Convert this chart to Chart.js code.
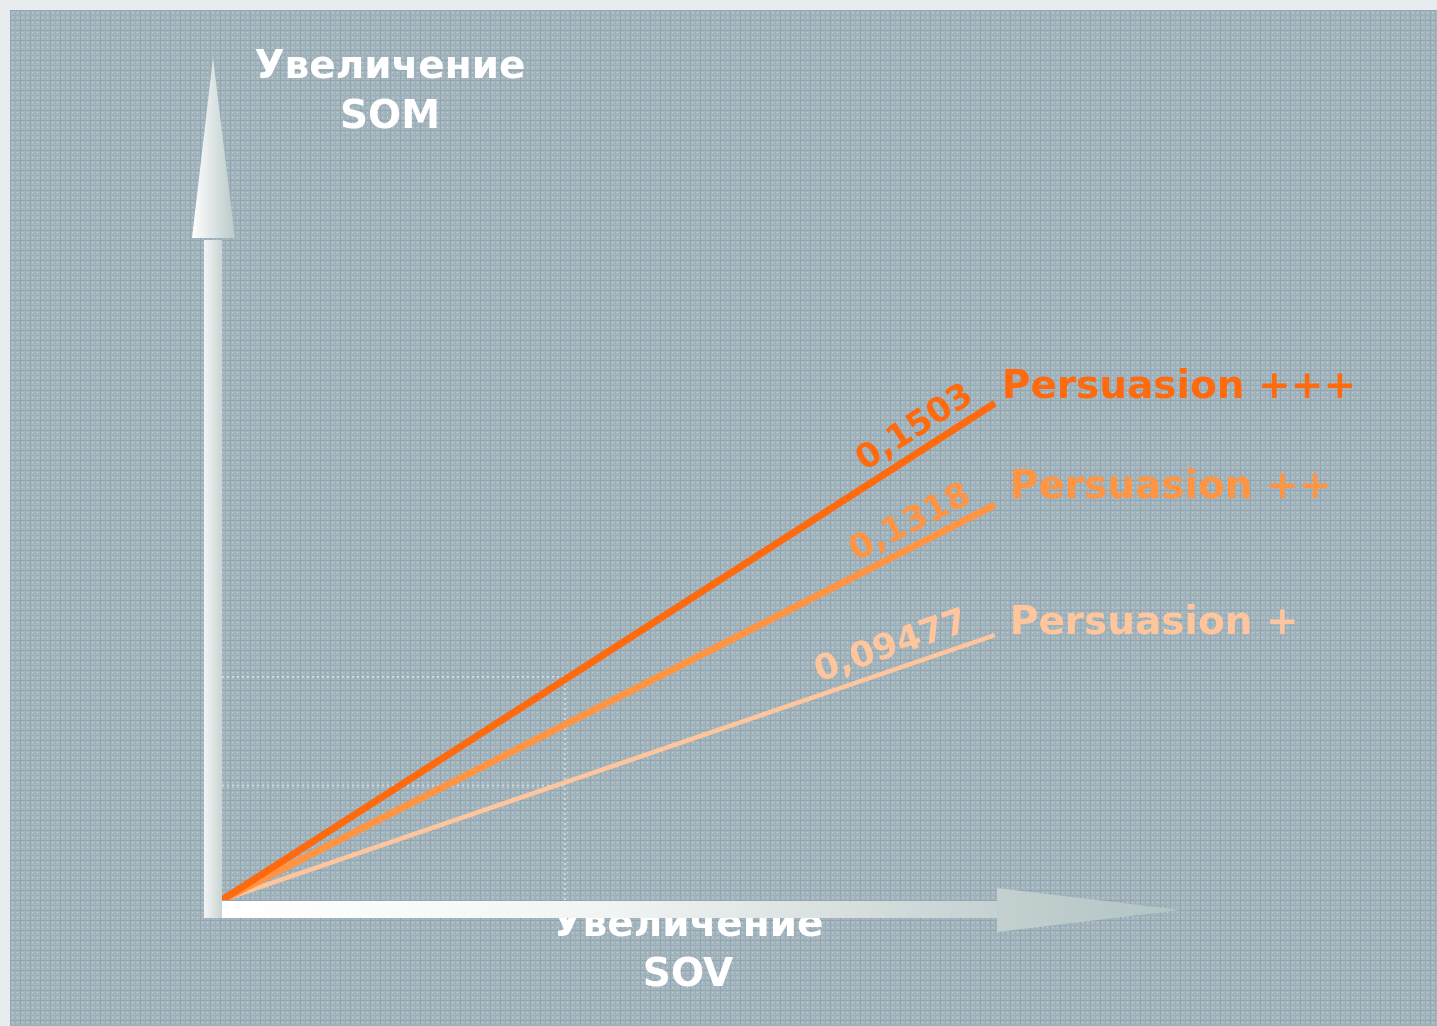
<!DOCTYPE html>
<html>
<head>
<meta charset="utf-8">
<script src="https://cdn.jsdelivr.net/npm/chart.js@4.4.1/dist/chart.umd.min.js"></script>
<style>
  html, body { margin: 0; padding: 0; background: #e8ecee; }
  #wrap { width: 1437px; height: 1026px; position: relative; }
</style>
</head>
<body>
<div id="wrap"><canvas id="chart"></canvas></div>
<script>
// Данные: рост SOV (x) и рост SOM (y), условные единицы
const sovPoints = [0, 8];
const persuasion3 = [0, 6.21];
const persuasion2 = [0, 4.94];
const persuasion1 = [0, 3.31];
const seriesNames = ['Persuasion +++', 'Persuasion ++', 'Persuasion +'];
const slopeLabels = ['0,1503', '0,1318', '0,09477'];
// опорные пунктирные линии
const refSov = 3.55;
const refSom = [2.79, 1.43];

const yTitle = ['Увеличение', 'SOM'];
const xTitle = ['Увеличение', 'SOV'];

const FONT = '"DejaVu Sans", Verdana, sans-serif';
const STYLE = [
    { color: '#ff6a0e', width: 7, nameDx: 7,  nameDy: -15, font: 34, along: -15 },
    { color: '#ff9442', width: 7, nameDx: 15, nameDy: -17, font: 34, along: -18 },
    { color: '#ffc59c', width: 4.5, nameDx: 15, nameDy: -11, font: 35, along: -22 }
];

function makePattern(ctx) {
    const c = document.createElement('canvas');
    c.width = 10; c.height = 10;
    const g = c.getContext('2d');
    g.fillStyle = '#a6b6bf'; g.fillRect(0, 0, 10, 10);
    g.fillStyle = '#90a5b0'; g.fillRect(0, 0, 10, 1); g.fillRect(0, 0, 1, 10);
    g.fillStyle = '#9bafb9'; g.fillRect(0, 5, 10, 1); g.fillRect(5, 0, 1, 10);
    g.fillStyle = '#c6d3d8'; g.fillRect(2, 2, 1, 1); g.fillRect(7, 7, 1, 1); g.fillRect(2, 7, 1, 1); g.fillRect(7, 2, 1, 1);
    return ctx.createPattern(c, 'repeat');
}

const line = (data, i) => ({
    data: sovPoints.map((x, k) => ({ x, y: data[k] })),
    showLine: true,
    borderColor: STYLE[i].color,
    borderWidth: STYLE[i].width,
    pointRadius: 0,
    borderCapStyle: 'butt',
    order: 1
});
const dotted = (pts) => ({
    data: pts,
    showLine: true,
    borderColor: 'rgba(225,234,238,0.85)',
    borderWidth: 1.5,
    borderDash: [2, 3],
    pointRadius: 0,
    order: 5
});

// фон, подписи осей (подпись X лежит под стрелкой)
const backdrop = {
    id: 'backdrop',
    beforeDraw(chart) {
        const { ctx, width, height } = chart;
        ctx.save();
        ctx.fillStyle = '#e8ecee';
        ctx.fillRect(0, 0, width, height);
        ctx.fillStyle = makePattern(ctx);
        ctx.fillRect(10, 10, width - 10, height - 10);

        const ox = chart.scales.x.getPixelForValue(0);
        ctx.fillStyle = '#ffffff';
        ctx.font = 'bold 39px ' + FONT;
        ctx.textAlign = 'center';
        ctx.textBaseline = 'middle';
        ctx.fillText(yTitle[0], ox + 168, 68);
        ctx.fillText(yTitle[1], ox + 168, 118);
        ctx.fillText(xTitle[0], ox + 466, 926);
        ctx.fillText(xTitle[1], ox + 466, 976);
        ctx.restore();
    }
};

// стрелки осей и подписи серий
const axesAndLabels = {
    id: 'axesAndLabels',
    afterDatasetsDraw(chart) {
        const { ctx } = chart;
        const ox = chart.scales.x.getPixelForValue(0);
        const oy = chart.scales.y.getPixelForValue(0);
        ctx.save();

        // ось Y
        let g = ctx.createLinearGradient(ox - 18, 0, ox, 0);
        g.addColorStop(0, '#f3f5f5'); g.addColorStop(1, '#c9d3d3');
        ctx.fillStyle = g;
        ctx.fillRect(ox - 18, oy - 660, 18, 678);
        g = ctx.createLinearGradient(ox - 30, 0, ox + 13, 0);
        g.addColorStop(0, '#ffffff'); g.addColorStop(1, '#b9c9c9');
        ctx.fillStyle = g;
        ctx.beginPath();
        ctx.moveTo(ox - 30, oy - 662);
        ctx.lineTo(ox + 13, oy - 662);
        ctx.lineTo(ox - 9, oy - 842);
        ctx.closePath();
        ctx.fill();

        // ось X
        g = ctx.createLinearGradient(ox, 0, ox + 775, 0);
        g.addColorStop(0, '#ffffff'); g.addColorStop(0.5, '#f2f4f4'); g.addColorStop(1, '#c6d1d1');
        ctx.fillStyle = g;
        ctx.fillRect(ox, oy + 1, 775, 17);
        g = ctx.createLinearGradient(ox + 775, 0, ox + 958, 0);
        g.addColorStop(0, '#c3d0cf'); g.addColorStop(1, '#b2c4c4');
        ctx.fillStyle = g;
        ctx.beginPath();
        ctx.moveTo(ox + 775, oy - 12);
        ctx.lineTo(ox + 958, oy + 10);
        ctx.lineTo(ox + 775, oy + 32);
        ctx.closePath();
        ctx.fill();

        // подписи наклонов и названия серий
        for (let i = 0; i < 3; i++) {
            const pts = chart.getDatasetMeta(i).data;
            const p0 = pts[0], p1 = pts[pts.length - 1];
            const ang = Math.atan2(p1.y - p0.y, p1.x - p0.x);
            ctx.save();
            ctx.translate(p1.x, p1.y);
            ctx.rotate(ang);
            ctx.fillStyle = STYLE[i].color;
            ctx.font = 'bold ' + STYLE[i].font + 'px ' + FONT;
            ctx.textAlign = 'right';
            ctx.textBaseline = 'alphabetic';
            ctx.fillText(slopeLabels[i], STYLE[i].along, -13);
            ctx.restore();

            ctx.fillStyle = STYLE[i].color;
            ctx.font = 'bold 39px ' + FONT;
            ctx.textAlign = 'left';
            ctx.textBaseline = 'middle';
            ctx.fillText(seriesNames[i], p1.x + STYLE[i].nameDx, p1.y + STYLE[i].nameDy);
        }
        ctx.restore();
    }
};

new Chart(document.getElementById('chart'), {
    type: 'scatter',
    data: {
        datasets: [
            line(persuasion3, 0),
            line(persuasion2, 1),
            line(persuasion1, 2),
            dotted([{ x: refSov, y: 0 }, { x: refSov, y: refSom[0] }]),
            dotted([{ x: 0, y: refSom[0] }, { x: refSov, y: refSom[0] }]),
            dotted([{ x: 0, y: refSom[1] }, { x: refSov, y: refSom[1] }])
        ]
    },
    options: {
        responsive: true,
        maintainAspectRatio: false,
        animation: false,
        layout: { padding: { left: 222, right: 249, top: 100, bottom: 126 } },
        scales: {
            x: { type: 'linear', min: 0, max: 10, display: false },
            y: { type: 'linear', min: 0, max: 10, display: false }
        },
        plugins: { legend: { display: false }, tooltip: { enabled: false } }
    },
    plugins: [backdrop, axesAndLabels]
});
</script>
</body>
</html>
